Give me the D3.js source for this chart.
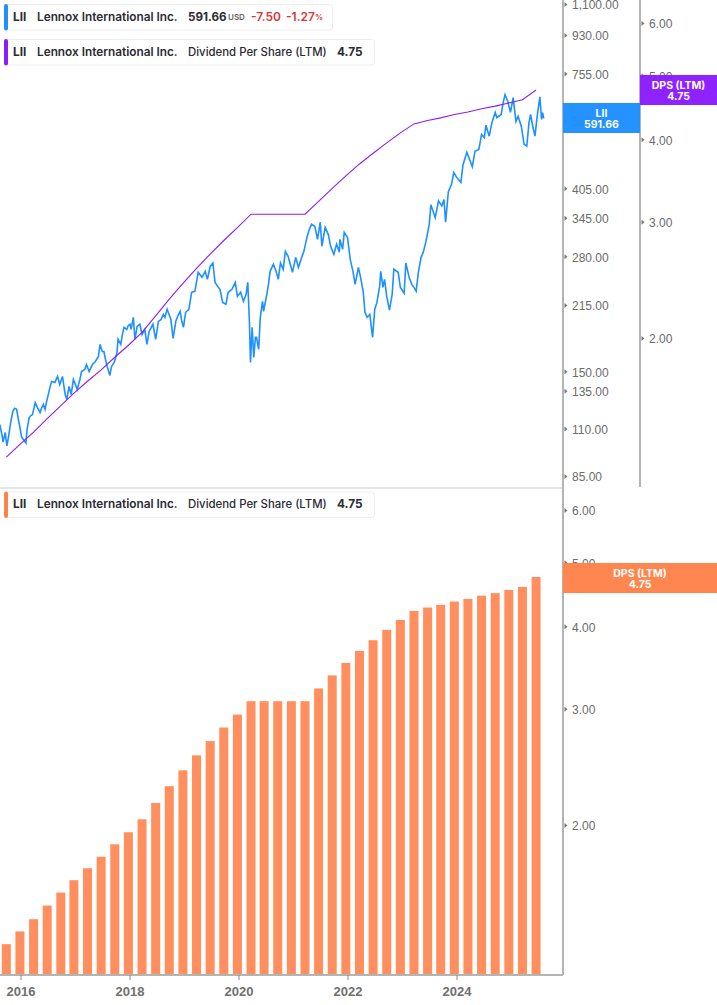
<!DOCTYPE html>
<html>
<head>
<meta charset="utf-8">
<script src="https://cdn.jsdelivr.net/npm/d3@7"></script>
<style>
    html, body { margin: 0; padding: 0; background: #fff; }
    svg { display: block; font-family: Inter, "Noto Sans", sans-serif; }
    .tick text { fill: #6b6b6b; font-size: 12px; font-weight: 500; }
    .year-axis .tick text { font-size: 13px; font-weight: 700; fill: #6f6f6f; }
    .legend text { font-size: 11.8px; fill: #2b2b33; dominant-baseline: central; }
    .price-label text { fill: #fff; font-size: 10.5px; font-weight: 700; text-anchor: middle; }
</style>
</head>
<body>
<div id="chart"></div>
<script>
// Dividend per share (LTM), one value per quarter
const quarters = [2015.74, 2015.99, 2016.24, 2016.49, 2016.74, 2016.98, 2017.23, 2017.48, 2017.73, 2017.98,
    2018.23, 2018.48, 2018.73, 2018.98, 2019.23, 2019.48, 2019.73, 2019.98, 2020.23, 2020.47,
    2020.72, 2020.97, 2021.22, 2021.47, 2021.72, 2021.97, 2022.22, 2022.47, 2022.72, 2022.97,
    2023.22, 2023.47, 2023.71, 2023.96, 2024.21, 2024.46, 2024.71, 2024.96, 2025.21, 2025.46];
const dpsValues = [1.32, 1.38, 1.44, 1.51, 1.58, 1.65, 1.72, 1.79, 1.87, 1.95,
    2.04, 2.16, 2.29, 2.42, 2.55, 2.68, 2.81, 2.94, 3.08, 3.08,
    3.08, 3.08, 3.08, 3.22, 3.37, 3.52, 3.67, 3.81, 3.95, 4.09,
    4.22, 4.27, 4.31, 4.36, 4.40, 4.45, 4.49, 4.54, 4.59, 4.75];

// Share price
const priceYears = [2015.62, 2015.66, 2015.68, 2015.72, 2015.75, 2015.78, 2015.82, 2015.86, 2015.89, 2015.93,
    2015.96, 2015.99, 2016.02, 2016.06, 2016.10, 2016.12, 2016.16, 2016.19, 2016.22, 2016.27,
    2016.31, 2016.36, 2016.39, 2016.42, 2016.45, 2016.48, 2016.51, 2016.54, 2016.57, 2016.63,
    2016.68, 2016.72, 2016.77, 2016.80, 2016.82, 2016.85, 2016.89, 2016.93, 2016.97, 2017.02,
    2017.04, 2017.09, 2017.12, 2017.18, 2017.21, 2017.26, 2017.32, 2017.37, 2017.43, 2017.46,
    2017.50, 2017.53, 2017.58, 2017.64, 2017.67, 2017.72, 2017.77, 2017.79, 2017.84, 2017.87,
    2017.90, 2017.95, 2017.98, 2018.01, 2018.03, 2018.07, 2018.10, 2018.14, 2018.19, 2018.23,
    2018.28, 2018.32, 2018.36, 2018.43, 2018.48, 2018.53, 2018.58, 2018.62, 2018.65, 2018.69,
    2018.76, 2018.78, 2018.80, 2018.85, 2018.89, 2018.93, 2018.96, 2018.99, 2019.03, 2019.09,
    2019.14, 2019.20, 2019.26, 2019.33, 2019.39, 2019.43, 2019.48, 2019.53, 2019.57, 2019.63,
    2019.66, 2019.71, 2019.77, 2019.81, 2019.88, 2019.94, 2019.98, 2020.04, 2020.09, 2020.14,
    2020.17, 2020.20, 2020.22, 2020.25, 2020.28, 2020.31, 2020.33, 2020.37, 2020.40, 2020.44,
    2020.46, 2020.52, 2020.55, 2020.58, 2020.64, 2020.69, 2020.73, 2020.77, 2020.82, 2020.86,
    2020.91, 2020.95, 2020.99, 2021.05, 2021.10, 2021.16, 2021.20, 2021.26, 2021.30, 2021.34,
    2021.40, 2021.45, 2021.50, 2021.53, 2021.59, 2021.65, 2021.69, 2021.75, 2021.80, 2021.85,
    2021.86, 2021.91, 2021.94, 2022.00, 2022.05, 2022.10, 2022.14, 2022.20, 2022.24, 2022.29,
    2022.32, 2022.36, 2022.41, 2022.46, 2022.50, 2022.54, 2022.59, 2022.61, 2022.65, 2022.68,
    2022.72, 2022.77, 2022.82, 2022.85, 2022.93, 2022.97, 2023.04, 2023.07, 2023.13, 2023.18,
    2023.22, 2023.26, 2023.30, 2023.35, 2023.39, 2023.44, 2023.50, 2023.53, 2023.61, 2023.67,
    2023.73, 2023.77, 2023.80, 2023.85, 2023.91, 2023.95, 2024.00, 2024.08, 2024.12, 2024.19,
    2024.24, 2024.29, 2024.34, 2024.41, 2024.46, 2024.51, 2024.54, 2024.60, 2024.65, 2024.71,
    2024.74, 2024.82, 2024.85, 2024.89, 2024.94, 2024.99, 2025.04, 2025.09, 2025.13, 2025.19,
    2025.24, 2025.29, 2025.33, 2025.36, 2025.40, 2025.44, 2025.48, 2025.53, 2025.56, 2025.58,
    2025.60];
const priceValues = [112.4, 106.3, 102.2, 107.6, 100.1, 105.1, 113.7, 120.7, 122.7, 122,
    115.5, 110.6, 105.1, 103.3, 101.6, 109.4, 116.7, 118, 118.6, 126.6,
    123.2, 120, 123.2, 125.4, 122, 127.4, 132.2, 137.5, 142, 141.2,
    145.9, 139.7, 145.9, 137.5, 132.3, 128.8, 138.2, 132.3, 143.5, 138.2,
    136, 143.5, 149.8, 151.5, 155.6, 149.8, 155.6, 158, 162.6, 173.6,
    167, 167, 155.6, 146.7, 154, 157.4, 166, 178.4, 173.6, 183.2,
    190.4, 188.3, 192.5, 193.6, 188.3, 201, 178.4, 191.4, 193.6, 183.2,
    188.3, 173.6, 186.2, 193.6, 178.4, 196.7, 198.8, 204.2, 201, 210,
    198.8, 188.3, 179.4, 196.7, 203, 207.7, 196.7, 190.4, 206.6, 210,
    230.3, 231.5, 256.6, 249.7, 258, 247, 264.9, 270, 243, 236.5,
    234, 218, 215.8, 230.3, 234, 243, 225.2, 230.3, 219.2, 227.8,
    243, 196.7, 157.4, 190.4, 161.7, 180.3, 180.3, 169, 201, 219.2,
    207.7, 227.8, 240.4, 258, 268, 258, 247, 270, 260.8, 287.5,
    279.8, 268, 256.6, 278.3, 263.6, 278.3, 287.5, 311.8, 324, 333,
    329.5, 306.8, 337, 295.5, 327.5, 314.5, 295.5, 283, 298.7, 286,
    306.8, 290.6, 318.8, 310, 275.3, 258, 240.4, 263.6, 249.7, 230.3,
    206.6, 201, 204.2, 180.3, 210, 218, 238, 258, 236.5, 247,
    225.2, 209, 227.8, 260.8, 256.6, 236.5, 229, 270, 249.7, 240.4,
    236.5, 231.5, 256.6, 278.3, 286, 303.5, 333, 370, 345, 378,
    368, 381, 337, 397, 414, 441, 430, 418, 460, 492,
    473, 455, 495, 500, 542, 533, 570, 537, 578, 611,
    594, 604, 638, 673, 649, 611, 662, 582, 598, 566,
    514, 509, 578, 604, 566, 537, 598, 665, 588, 610,
    591.66];

const priceTicks = [1100, 930, 755, 585, 405, 345, 280, 215, 150, 135, 110, 85];
const dpsTicks = [6, 5, 4, 3, 2];
const yearTicks = [2016, 2018, 2020, 2022, 2024];

const totalWidth = 717;
const totalHeight = 1005;
const priceAxisX = 563;
const dpsAxisX = 640;
const topPanelBottom = 487;
const bottomPanelBottom = 975;

const axisColor = '#b4b4b4';
const blue = '#1e90ff';
const purple = '#8a1cff';
const orange = '#ff8249';
const barColor = '#ff8f5e';
const red = '#d9343a';

const svg = d3.select('#chart')
    .append('svg')
    .attr('width', totalWidth)
    .attr('height', totalHeight);

const xScale = d3.scaleLinear().domain([2016, 2024]).range([20.5, 456.5]);
const priceScale = d3.scaleLog().domain([1100, 85]).range([4, 476]);
const dpsTopScale = d3.scaleLog().domain([6, 2]).range([23, 338]);
const dpsBottomScale = d3.scaleLog().domain([6, 2]).range([510, 825]);

// Bars in the lower panel
svg.append('g')
    .selectAll('rect')
    .data(dpsValues)
    .enter()
    .append('rect')
    .attr('x', (d, i) => xScale(quarters[i]) - 4.5)
    .attr('width', 9)
    .attr('y', d => dpsBottomScale(d))
    .attr('height', d => bottomPanelBottom - dpsBottomScale(d))
    .style('fill', barColor);

// Lines in the upper panel
const priceLine = d3.line()
    .x((d, i) => xScale(priceYears[i]))
    .y(d => priceScale(d));

svg.append('path')
    .attr('d', priceLine(priceValues))
    .style('fill', 'none')
    .style('stroke', blue)
    .style('stroke-width', 1.6);

const dpsLine = d3.line()
    .x((d, i) => xScale(quarters[i]))
    .y(d => dpsTopScale(d));

svg.append('path')
    .attr('d', dpsLine(dpsValues))
    .style('fill', 'none')
    .style('stroke', purple)
    .style('stroke-width', 1.1);

// Panel separator and axis lines
function rule(x1, y1, x2, y2, color) {
    svg.append('line')
        .attr('x1', x1).attr('y1', y1).attr('x2', x2).attr('y2', y2)
        .style('stroke', color)
        .style('stroke-width', 2);
}

rule(0, 488, priceAxisX, 488, '#e4e4e4');
rule(priceAxisX, 0, priceAxisX, bottomPanelBottom, axisColor);
rule(dpsAxisX, 0, dpsAxisX, topPanelBottom, axisColor);
rule(0, bottomPanelBottom, priceAxisX, bottomPanelBottom, axisColor);

function addValueAxis(scale, ticks, format, x) {
    const axis = svg.append('g')
        .attr('transform', `translate(${x},0)`)
        .call(d3.axisRight(scale).tickValues(ticks).tickFormat(format).tickSize(0).tickPadding(9));
    axis.select('.domain').remove();
    axis.selectAll('.tick text').attr('dy', '0.4em');
    // small arrow instead of a tick line
    axis.selectAll('.tick')
        .append('path')
        .attr('d', 'M1.5,-2.5L4.5,0L1.5,2.5Z')
        .style('fill', '#777');
}

addValueAxis(priceScale, priceTicks, d3.format(',.2f'), priceAxisX);
addValueAxis(dpsTopScale, dpsTicks, d3.format('.2f'), dpsAxisX);
addValueAxis(dpsBottomScale, dpsTicks, d3.format('.2f'), priceAxisX);

const yearAxis = svg.append('g')
    .attr('class', 'year-axis')
    .attr('transform', `translate(0,${bottomPanelBottom})`)
    .call(d3.axisBottom(xScale).tickValues(yearTicks).tickFormat(d3.format('d')).tickSize(5).tickPadding(7));
yearAxis.select('.domain').remove();
yearAxis.selectAll('.tick line').style('stroke', '#888');

// Coloured value labels on the axes
function addPriceLabel(x, width, y, color, lines) {
    const g = svg.append('g').attr('class', 'price-label');
    g.append('rect')
        .attr('x', x).attr('y', y)
        .attr('width', width).attr('height', 30)
        .style('fill', color)
        .style('opacity', 0.97);
    lines.forEach((line, i) => {
        g.append('text')
            .attr('x', x + width / 2)
            .attr('y', y + 13.5 + i * 11)
            .text(line);
    });
}

addPriceLabel(priceAxisX, dpsAxisX - priceAxisX, 103, blue, ['LII', '591.66']);
addPriceLabel(dpsAxisX, totalWidth - dpsAxisX, 75, purple, ['DPS (LTM)', '4.75']);
addPriceLabel(priceAxisX, totalWidth - priceAxisX, 563, orange, ['DPS (LTM)', '4.75']);

// Legend boxes: each part is [text, x, weight, size, colour]
function addLegend(y, width, color, parts) {
    const g = svg.append('g').attr('class', 'legend');
    g.append('rect')
        .attr('x', 4.5).attr('y', y + 0.5)
        .attr('width', width).attr('height', 25.5)
        .attr('rx', 3)
        .style('fill', '#fff')
        .style('stroke', '#eeeeee');
    g.append('rect')
        .attr('x', 4).attr('y', y)
        .attr('width', 4).attr('height', 26.5)
        .attr('rx', 2)
        .style('fill', color);
    parts.forEach(p => {
        const text = g.append('text')
            .attr('x', p[1])
            .attr('y', y + 12.5)
            .style('font-weight', p[2])
            .text(p[0]);
        if (p[3]) text.style('font-size', p[3] + 'px');
        if (p[4]) text.style('fill', p[4]);
    });
}

const nameParts = [['LII', 13, 700], ['Lennox International Inc.', 37, 600]];
const dpsParts = nameParts.concat([['Dividend Per Share (LTM)', 188, 500, 11.4], ['4.75', 337, 700]]);

addLegend(4, 328, blue, nameParts.concat([
    ['591.66', 188, 700, 11.6],
    ['USD', 228, 600, 8, '#666'],
    ['-7.50', 251, 600, 12, red],
    ['-1.27', 286, 600, 12, red],
    ['%', 315, 600, 8, red]
]));
addLegend(39, 370, purple, dpsParts);
addLegend(491.5, 370, orange, dpsParts);
</script>
</body>
</html>
